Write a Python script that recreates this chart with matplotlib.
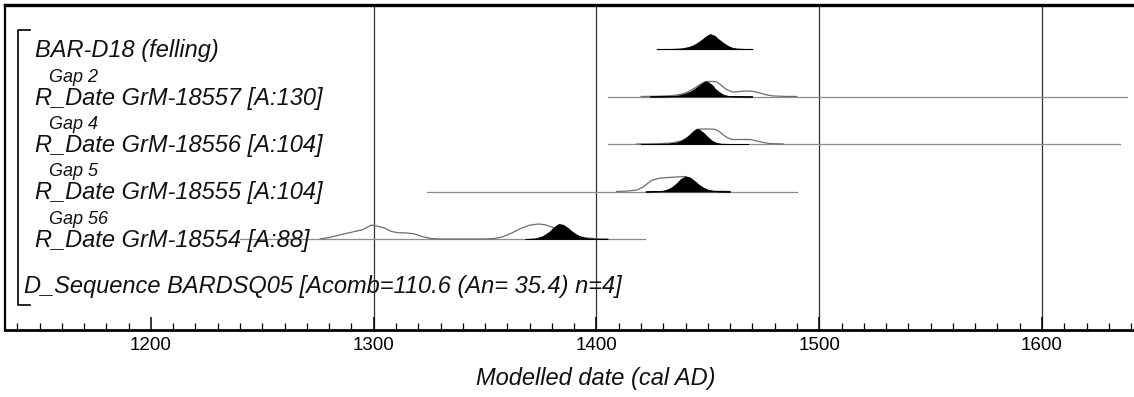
import matplotlib
matplotlib.use("Agg")
import matplotlib.pyplot as plt
from matplotlib.ticker import MultipleLocator

W, H = 1134, 397

# --- data -----------------------------------------------------------------
labels = ["BAR-D18 (felling)",
          "R_Date GrM-18557 [A:130]",
          "R_Date GrM-18556 [A:104]",
          "R_Date GrM-18555 [A:104]",
          "R_Date GrM-18554 [A:88]"]
gap_labels = ["Gap 2", "Gap 4", "Gap 5", "Gap 56"]
sequence_label = "D_Sequence BARDSQ05 [Acomb=110.6 (An= 35.4) n=4]"

# extent of the thin line drawn under each row (cal AD)
range_start = [1427, 1405, 1405, 1324, 1240]
range_end = [1470, 1638, 1635, 1490, 1422]

# posterior (filled) and likelihood (outline), relative probability
bar_years = [1427, 1434, 1438, 1441, 1443, 1445, 1447, 1449, 1451, 1453,
             1455, 1457, 1459, 1461, 1463, 1466, 1470]
bar_post = [0, .01, .04, .12, .22, .38, .58, .82, 1.0, .88,
            .62, .40, .20, .08, .03, .01, 0]

g57_post_years = [1424, 1430, 1434, 1437, 1440, 1442, 1444, 1446, 1448, 1449,
                  1450, 1452, 1453, 1455, 1457, 1459, 1462, 1470]
g57_post = [0, .01, .03, .08, .20, .32, .50, .72, .93, 1.0,
            .97, .75, .55, .30, .12, .04, .01, 0]
g57_prior_years = [1420, 1428, 1434, 1438, 1441, 1444, 1447, 1449, 1452, 1454,
                   1456, 1458, 1461, 1464, 1467, 1470, 1473, 1476, 1479, 1484, 1490]
g57_prior = [0, .02, .06, .15, .30, .55, .85, 1.0, 1.0, .97,
             .75, .50, .30, .33, .37, .35, .25, .12, .04, .01, 0]

g56_post_years = [1420, 1428, 1432, 1436, 1438, 1440, 1442, 1444, 1445, 1446,
                  1448, 1450, 1452, 1454, 1456, 1460, 1468]
g56_post = [0, .01, .03, .10, .20, .38, .62, .90, 1.0, .97,
            .75, .45, .20, .07, .02, .005, 0]
g56_prior_years = [1418, 1428, 1434, 1438, 1441, 1443, 1445, 1447, 1450, 1453,
                   1455, 1457, 1459, 1461, 1465, 1469, 1472, 1475, 1478, 1484]
g56_prior = [0, .02, .07, .20, .45, .75, .97, 1.0, 1.0, .98,
             .85, .60, .40, .30, .30, .30, .20, .10, .03, 0]

g55_post_years = [1422, 1428, 1430, 1432, 1434, 1436, 1438, 1440, 1442, 1444,
                  1446, 1448, 1450, 1452, 1455, 1460]
g55_post = [0, .02, .06, .15, .30, .55, .85, 1.0, .93, .70,
            .45, .25, .12, .05, .01, 0]
g55_prior_years = [1409, 1414, 1418, 1421, 1423, 1425, 1428, 1431, 1434, 1437,
                   1440, 1442, 1444, 1446, 1448, 1450, 1453, 1460]
g55_prior = [0, .03, .10, .30, .55, .75, .88, .92, .95, .98,
             1.0, .85, .60, .35, .17, .07, .02, 0]

g54_post_years = [1368, 1373, 1376, 1379, 1381, 1383, 1385, 1387, 1389, 1391,
                  1393, 1396, 1400, 1405]
g54_post = [0, .05, .20, .50, .80, 1.0, .95, .75, .50, .30,
            .15, .05, .01, 0]
g54_prior_years = [1276, 1280, 1285, 1290, 1295, 1299, 1302, 1305, 1308, 1311,
                   1315, 1318, 1322, 1326, 1330, 1350, 1354, 1358, 1362, 1366,
                   1370, 1374, 1377, 1380, 1383, 1387, 1391, 1395, 1400, 1405]
g54_prior = [0, .10, .28, .45, .62, .93, .85, .72, .50, .42,
             .40, .35, .15, .03, 0, 0, .03, .15, .40, .70,
             .92, 1.0, .95, .80, .60, .40, .20, .08, .02, 0]

priors = [None,
          (g57_prior_years, g57_prior),
          (g56_prior_years, g56_prior),
          (g55_prior_years, g55_prior),
          (g54_prior_years, g54_prior)]
posts = [(bar_years, bar_post),
         (g57_post_years, g57_post),
         (g56_post_years, g56_post),
         (g55_post_years, g55_post),
         (g54_post_years, g54_post)]

grid_years = [1300, 1400, 1500, 1600]

# --- layout (pixel rows of the figure) ------------------------------------
ROW0, ROW_STEP = 49, 47.5
PEAK = 15
AX_TOP, AX_BOTTOM, AX_LEFT = 5, 330, 5
X0, X1 = 1134.5, 1641.3


def fx(px):
    return px / W


def fy(py):
    return 1 - py / H


fig = plt.figure(figsize=(W / 100, H / 100), dpi=100)
ax = fig.add_axes([fx(AX_LEFT), fy(AX_BOTTOM), 1 - fx(AX_LEFT),
                   (AX_BOTTOM - AX_TOP) / H])
ax.set_xlim(X0, X1)
ax.set_ylim(AX_BOTTOM, AX_TOP)

for yr in grid_years:
    ax.axvline(yr, color="#333333", lw=0.9, zorder=1)

for i in range(len(labels)):
    base = ROW0 + ROW_STEP * i
    ax.plot([range_start[i], range_end[i]], [base, base],
            color="#555555" if i == 0 else "#8c8c8c", lw=0.9, zorder=2)
    if priors[i] is not None:
        yrs, p = priors[i]
        ax.plot(yrs, [base - v * PEAK for v in p], color="#6e6e6e",
                lw=0.9, zorder=3)
    yrs, p = posts[i]
    ax.fill_between(yrs, [base - v * PEAK for v in p], base,
                    color="black", lw=0.6, zorder=4)

    fig.text(fx(35), fy(base + 1.5), labels[i], fontsize=17,
             style="italic", family="Liberation Sans", va="center",
             color="#111111")
    if i > 0:
        fig.text(fx(49), fy(base - 19.5), gap_labels[i - 1], fontsize=13,
                 style="italic", family="Liberation Sans", va="center",
                 color="#111111")

fig.text(fx(24), fy(287), sequence_label, fontsize=17, style="italic",
         family="Liberation Sans", va="center", color="#111111")

# bracket round the sequence
fig.add_artist(plt.Line2D([fx(30), fx(18), fx(18), fx(30)],
                          [fy(30), fy(30), fy(305), fy(305)],
                          color="black", lw=1.2))

ax.set_yticks([])
ax.xaxis.set_major_locator(MultipleLocator(100))
ax.xaxis.set_minor_locator(MultipleLocator(10))
ax.tick_params(axis="x", which="major", direction="in", length=9.5,
               width=1.1, pad=5, labelsize=13.5)
ax.tick_params(axis="x", which="minor", direction="in", length=5, width=0.9)
for lab in ax.get_xticklabels():
    lab.set_family("Liberation Sans")

ax.spines["right"].set_visible(False)
ax.spines["top"].set_linewidth(2.4)
ax.spines["bottom"].set_linewidth(2.0)
ax.spines["left"].set_linewidth(1.6)

fig.text(fx(596), fy(378), "Modelled date (cal AD)", fontsize=17,
         style="italic", family="Liberation Sans", ha="center", va="center",
         color="#111111")

fig.savefig("out.png", dpi=100)
